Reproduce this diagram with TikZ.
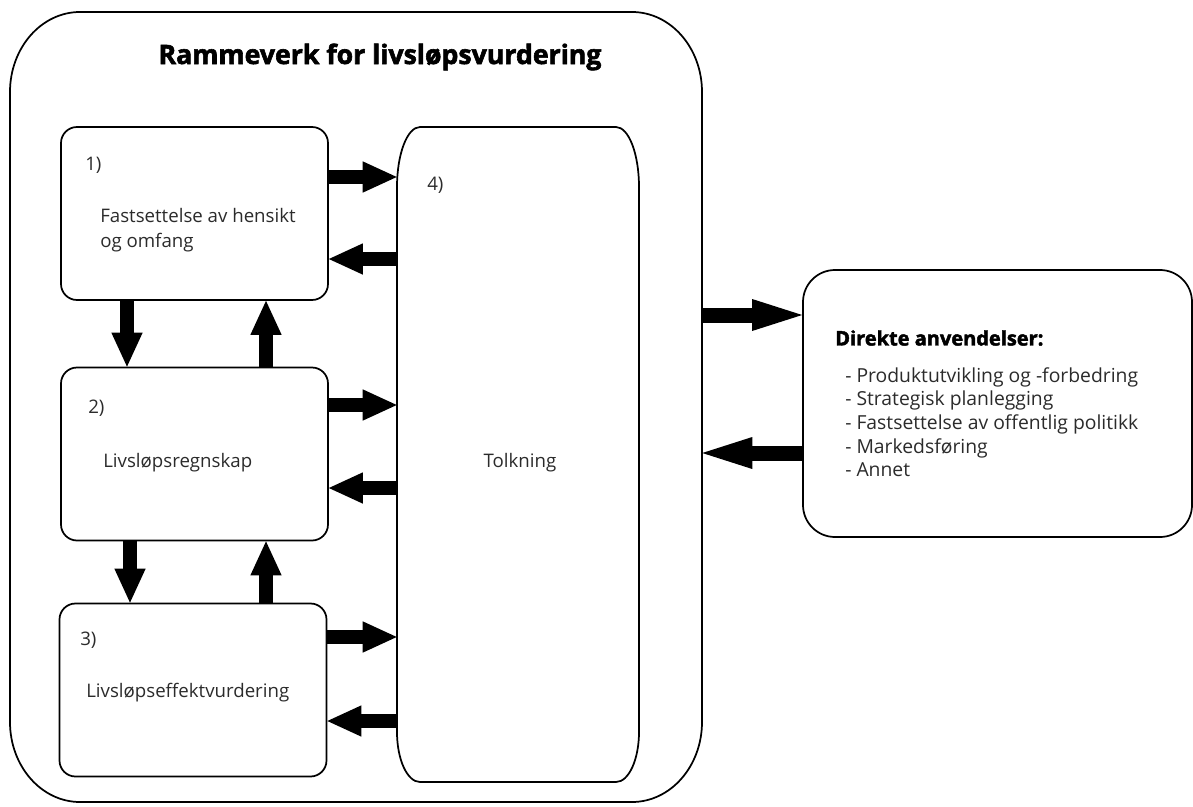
\documentclass[tikz,border=0pt]{standalone}
\usepackage{fontspec}
\setmainfont{Open Sans}
\newfontfamily\heavyfont{Open Sans}[BoldFeatures={FakeBold=2.2}]
\usetikzlibrary{arrows.meta,calc}
\definecolor{ink}{HTML}{2B2B2B}
\begin{document}
\begin{tikzpicture}[x=0.75pt,y=-0.75pt,
  outline/.style={draw=black,line width=1.3pt},
  stage/.style={draw=black,line width=1.3pt,rounded corners=12pt,
    minimum width=267*0.75pt,minimum height=173*0.75pt,inner sep=0pt},
  lbl/.style={inner sep=0pt,text=ink,font=\fontsize{14}{18.75}\selectfont},
  barrow/.style={line width=10.5pt,
    -{Triangle[length=25.5pt,width=23.5pt,line width=0pt]}},
  bigarrow/.style={line width=11.25pt,
    -{Triangle[length=37.5pt,width=24pt,line width=0pt]}}]
\useasboundingbox (0,0) rectangle (1193,807);

% outer frame
\node[minimum width=692*0.75pt,minimum height=790*0.75pt,inner sep=0pt] (frame) at (356,407) {};
\draw[outline] (10,92) arc[start angle=180,end angle=270,x radius=70,y radius=80]
  -- (632,12) arc[start angle=270,end angle=360,x radius=70,y radius=80]
  -- (702,722) arc[start angle=0,end angle=90,x radius=70,y radius=80]
  -- (80,802) arc[start angle=90,end angle=180,x radius=70,y radius=80] -- cycle;
\node[font=\heavyfont\bfseries\fontsize{20}{22}\selectfont,inner sep=0pt] (title) at (380,57) {Rammeverk for livsløpsvurdering};

% stages
\node[stage] (b1) at (194.5,213.5) {};
\node[stage] (b2) at (194.5,454) {};
\node[stage] (b3) at (193,690) {};

\node[lbl,anchor=west] (n1) at (85,165) {1)};
\node[lbl,anchor=north west,align=left] (t1) at (100,208) {Fastsettelse av hensikt\\og omfang};
\node[lbl,anchor=west] (n2) at (88,408) {2)};
\node[lbl,anchor=west] (t2) at (103,463) {Livsløpsregnskap};
\node[lbl,anchor=west] (n3) at (80,640) {3)};
\node[lbl,anchor=west] (t3) at (86,693) {Livsløpseffektvurdering};

% interpretation
\node[minimum width=242*0.75pt,minimum height=655*0.75pt,inner sep=0pt] (t4) at (518,454.5) {};
\draw[outline] (397,187) arc[start angle=180,end angle=270,x radius=23,y radius=60]
  -- (616,127) arc[start angle=270,end angle=360,x radius=23,y radius=60]
  -- (639,732) arc[start angle=0,end angle=90,x radius=23,y radius=50]
  -- (420,782) arc[start angle=90,end angle=180,x radius=23,y radius=50] -- cycle;
\node[lbl,anchor=west] (n4) at (427,185) {4)};
\node[lbl] (tt) at (520,463) {Tolkning};

% applications
\node[draw=black,line width=1.3pt,rounded corners=24pt,minimum width=389*0.75pt,
  minimum height=267*0.75pt,inner sep=0pt] (b5) at (997.5,403.5) {};
\node[inner sep=0pt,anchor=west,font=\heavyfont\bfseries\fontsize{15}{17}\selectfont] (d5) at (835,338) {Direkte anvendelser:};
\node[lbl,anchor=north west,align=left,font=\fontsize{14.5}{17.8}\selectfont] (l5) at (845,367) {%
  - Produktutvikling og -forbedring\\
  - Strategisk planlegging\\
  - Fastsettelse av offentlig politikk\\
  - Markedsføring\\
  - Annet};

% links between stages and interpretation
\draw[barrow] (b1.east |- 0,177) -- (t4.west |- 0,177);
\draw[barrow] (t4.west |- 0,259) -- (b1.east |- 0,259);
\draw[barrow] (b2.east |- 0,405) -- (t4.west |- 0,405);
\draw[barrow] (t4.west |- 0,488) -- (b2.east |- 0,488);
\draw[barrow] (b3.east |- 0,637) -- (t4.west |- 0,637);
\draw[barrow] (t4.west |- 0,721) -- (b3.east |- 0,721);

% links between stages
\draw[barrow] (b1.south -| 127,0) -- (b2.north -| 127,0);
\draw[barrow] (b2.north -| 266,0) -- (b1.south -| 266,0);
\draw[barrow] (b2.south -| 130,0) -- (b3.north -| 130,0);
\draw[barrow] (b3.north -| 266,0) -- (b2.south -| 266,0);

% links to applications
\draw[bigarrow] (frame.east |- 0,315) -- (b5.west |- 0,315);
\draw[bigarrow] (b5.west |- 0,453) -- (frame.east |- 0,453);
\end{tikzpicture}
\end{document}
